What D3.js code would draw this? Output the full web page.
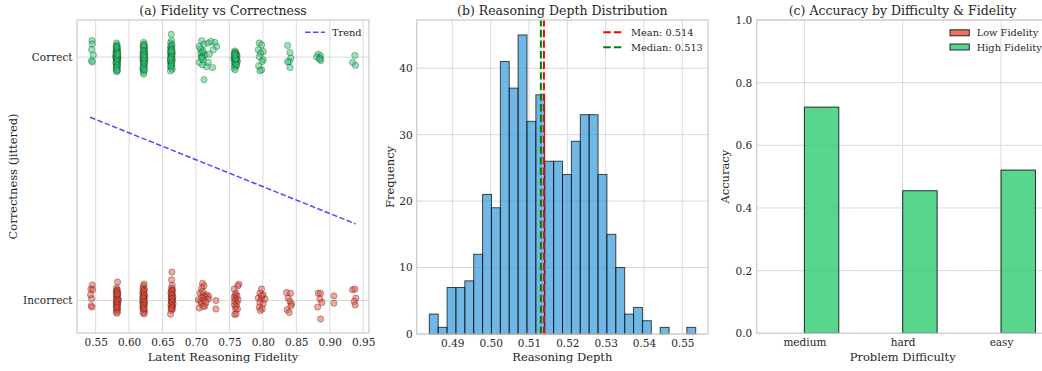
<!DOCTYPE html>
<html><head><meta charset="utf-8">
<script src="https://cdn.jsdelivr.net/npm/d3@7"></script>
<style>
body{margin:0;background:#fff}
svg{display:block}
text{font-family:"DejaVu Serif",serif;fill:#262626}
</style>
</head><body>
<svg id="chart" width="1042" height="371"></svg>
<script>
// ---------- DATA ----------
// (a) scatter: [fidelity, jittered correctness]
const correctPoints = [
 [0.5445,1.068],[0.5448,1.054],[0.5440,1.030],[0.5465,1.008],[0.5437,0.985],[0.5450,0.980],
 [0.5813,1.058],[0.5820,1.050],[0.5806,1.045],[0.5828,1.040],[0.5810,1.036],[0.5823,1.031],[0.5816,1.027],[0.5803,1.022],[0.5831,1.019],[0.5818,1.015],
 [0.5808,1.012],[0.5826,1.008],[0.5814,1.005],[0.5821,1.002],[0.5805,0.999],[0.5833,0.997],[0.5817,0.994],[0.5809,0.991],[0.5824,0.988],[0.5812,0.985],
 [0.5828,0.982],[0.5806,0.979],[0.5819,0.976],[0.5815,0.972],[0.5825,0.968],[0.5810,0.964],[0.5822,0.960],[0.5817,0.955],[0.5807,0.950],[0.5826,0.945],
 [0.5814,0.940],[0.5798,1.003],[0.5820,0.998],[0.5812,1.025],[0.5827,0.990],
 [0.5816,1.033],[0.5822,1.020],[0.5809,1.010],[0.5826,1.001],[0.5813,0.993],[0.5820,0.983],[0.5807,0.975],[0.5824,0.966],[0.5815,1.042],[0.5829,1.012],
 [0.5811,0.958],[0.5819,0.947],
 [0.6218,1.060],[0.6225,1.052],[0.6208,1.046],[0.6233,1.040],[0.6213,1.034],[0.6229,1.028],[0.6221,1.022],[0.6205,1.018],[0.6237,1.013],[0.6217,1.009],
 [0.6224,1.004],[0.6211,1.000],[0.6231,0.996],[0.6219,0.992],[0.6207,0.988],[0.6227,0.984],[0.6215,0.980],[0.6233,0.976],[0.6222,0.971],[0.6210,0.966],
 [0.6228,0.961],[0.6218,0.955],[0.6205,0.950],[0.6223,0.944],[0.6213,0.938],[0.6219,0.930],[0.6228,1.018],[0.6212,0.997],[0.6238,0.990],
 [0.6220,1.042],[0.6214,1.026],[0.6226,1.012],[0.6209,1.006],[0.6230,0.999],[0.6217,0.986],[0.6224,0.974],[0.6212,0.958],[0.6229,0.948],[0.6221,1.050],
 [0.6630,1.094],[0.6635,1.068],[0.6620,1.058],[0.6642,1.050],[0.6630,1.043],[0.6615,1.037],[0.6638,1.031],[0.6625,1.025],[0.6645,1.019],[0.6618,1.013],
 [0.6633,1.008],[0.6640,1.003],[0.6622,0.998],[0.6630,0.993],[0.6648,0.989],[0.6615,0.984],[0.6635,0.979],[0.6625,0.973],[0.6640,0.967],[0.6620,0.961],
 [0.6632,0.955],[0.6645,0.950],[0.6618,0.944],[0.6628,0.985],[0.6638,1.010],
 [0.6628,1.046],[0.6636,1.034],[0.6622,1.021],[0.6641,1.015],[0.6630,1.000],[0.6619,0.992],[0.6637,0.976],[0.6627,0.964],[0.6633,1.027],
 [0.7085,1.067],[0.7119,1.053],[0.7049,1.044],[0.7183,1.058],[0.7223,1.064],[0.7283,1.060],[0.7309,1.044],[0.7258,1.030],[0.7069,1.033],[0.7099,1.019],
 [0.7134,1.009],[0.7198,1.012],[0.7049,0.978],[0.7099,0.968],[0.7159,0.961],[0.7249,0.957],[0.7183,0.979],[0.7119,0.907],[0.7079,1.002],[0.7109,0.989],
 [0.7074,1.016],[0.7095,1.000],[0.7105,1.025],[0.7085,0.995],
 [0.7580,1.025],[0.7595,1.020],[0.7570,1.015],[0.7605,1.012],[0.7585,1.008],[0.7615,1.005],[0.7575,1.002],[0.7590,0.999],[0.7600,0.996],[0.7565,0.993],
 [0.7610,0.990],[0.7582,0.987],[0.7595,0.984],[0.7572,0.980],[0.7605,0.976],[0.7588,0.972],[0.7578,0.967],[0.7598,0.962],[0.7570,0.955],[0.7585,0.948],
 [0.7620,0.983],[0.7592,1.003],
 [0.7583,1.017],[0.7598,1.006],[0.7576,0.997],[0.7602,0.989],[0.7588,0.978],[0.7593,0.993],[0.7580,1.010],[0.7607,0.968],
 [0.7946,1.058],[0.7981,1.050],[0.7931,1.030],[0.8006,1.023],[0.7967,1.016],[0.7946,1.002],[0.8006,0.989],[0.7986,0.982],[0.7937,0.964],[0.7981,0.948],[0.7956,0.944],
 [0.8370,1.048],[0.8405,1.019],[0.8419,0.996],[0.8394,0.981],[0.8370,0.981],[0.8405,0.957],
 [0.8828,1.012],[0.8863,1.005],[0.8843,0.996],[0.8868,0.986],[0.8804,1.000],[0.8853,0.992],
 [0.9376,1.007],[0.9342,0.978],[0.9387,0.966]
];
const incorrectPoints = [
 [0.5449,0.064],[0.5430,0.047],[0.5455,0.044],[0.5425,0.023],[0.5440,0.007],[0.5434,-0.022],[0.5445,-0.027],
 [0.5828,0.076],[0.5813,0.052],[0.5823,0.044],[0.5806,0.035],[0.5833,0.030],[0.5818,0.024],[0.5810,0.018],[0.5828,0.013],[0.5816,0.008],[0.5836,0.003],
 [0.5808,-0.002],[0.5824,-0.006],[0.5813,-0.011],[0.5831,-0.015],[0.5818,-0.020],[0.5806,-0.025],[0.5826,-0.030],[0.5813,-0.036],[0.5833,-0.041],[0.5808,-0.048],
 [0.5820,-0.052],[0.5838,0.000],[0.5816,0.040],
 [0.5820,0.035],[0.5814,0.020],[0.5826,0.004],[0.5810,-0.008],[0.5822,-0.017],[0.5816,-0.028],[0.5829,0.026],
 [0.6225,0.068],[0.6215,0.060],[0.6208,0.050],[0.6230,0.045],[0.6218,0.038],[0.6202,0.033],[0.6225,0.027],[0.6212,0.022],[0.6235,0.017],[0.6205,0.012],
 [0.6220,0.007],[0.6210,0.003],[0.6228,-0.002],[0.6200,-0.007],[0.6216,-0.011],[0.6232,-0.016],[0.6208,-0.021],[0.6222,-0.026],[0.6204,-0.031],[0.6218,-0.037],
 [0.6230,-0.043],[0.6210,-0.050],[0.6225,-0.055],[0.6214,0.015],
 [0.6218,0.041],[0.6224,0.024],[0.6212,0.009],[0.6227,-0.005],[0.6215,-0.019],[0.6221,-0.033],
 [0.6640,0.117],[0.6635,0.085],[0.6645,0.062],[0.6630,0.050],[0.6652,0.044],[0.6638,0.038],[0.6625,0.032],[0.6648,0.027],[0.6635,0.021],[0.6655,0.016],
 [0.6628,0.011],[0.6642,0.006],[0.6650,0.001],[0.6632,-0.004],[0.6640,-0.009],[0.6658,-0.013],[0.6625,-0.018],[0.6645,-0.023],[0.6635,-0.029],[0.6650,-0.035],
 [0.6630,-0.040],[0.6620,-0.056],[0.6642,0.010],
 [0.6640,0.040],[0.6633,0.024],[0.6646,0.008],[0.6636,-0.007],[0.6643,-0.020],[0.6630,-0.031],
 [0.7099,0.071],[0.7119,0.060],[0.7084,0.051],[0.7059,0.030],[0.7109,0.023],[0.7159,0.023],[0.7190,0.018],[0.7134,0.014],[0.7084,0.010],[0.7034,0.003],
 [0.7069,-0.004],[0.7119,0.000],[0.7183,0.006],[0.7084,-0.014],[0.7134,-0.022],[0.7049,-0.031],[0.7109,-0.025],[0.7298,0.000],[0.7298,-0.035],[0.7099,0.037],
 [0.7149,-0.008],
 [0.7642,0.067],[0.7625,0.060],[0.7572,0.047],[0.7600,0.030],[0.7585,0.022],[0.7615,0.018],[0.7570,0.012],[0.7595,0.006],[0.7630,0.002],[0.7580,-0.004],
 [0.7610,-0.010],[0.7575,-0.017],[0.7600,-0.024],[0.7590,-0.035],[0.7620,-0.035],[0.7580,-0.057],[0.7600,-0.055],
 [0.7981,0.047],[0.7956,0.030],[0.8006,0.023],[0.7931,0.010],[0.7981,0.006],[0.8031,0.006],[0.7956,-0.008],[0.8006,-0.014],[0.7946,-0.027],[0.7991,-0.035],
 [0.7961,-0.041],[0.7981,0.020],
 [0.8355,0.033],[0.8415,0.030],[0.8379,0.010],[0.8404,-0.004],[0.8430,-0.014],[0.8364,-0.038],[0.8394,-0.049],[0.8420,-0.022],
 [0.8828,0.030],[0.8863,0.030],[0.8853,0.006],[0.8883,-0.008],[0.8818,-0.027],[0.8863,-0.076],
 [0.9062,0.019],[0.9062,-0.011],
 [0.9342,0.044],[0.9376,0.047],[0.9391,0.010],[0.9366,-0.004],[0.9381,-0.018]
];
const trendX = [0.5417, 0.9386];
const trendY = [0.753, 0.315];
const xTicksA = [0.55,0.60,0.65,0.70,0.75,0.80,0.85,0.90,0.95];
const yTicksA = [0, 1];
const yTickLabelsA = ["Incorrect", "Correct"];

// (b) histogram
const depthRange = [0.4840, 0.5535];
const depthCounts = [3,1,7,7,8,12,21,19,41,37,45,32,36,26,26,24,29,33,33,24,15,10,3,4,2,0,1,0,0,1];
const depthMean = 0.5139;
const depthMedian = 0.5131;
const xTicksB = [0.49,0.50,0.51,0.52,0.53,0.54,0.55];
const yTicksB = [0,10,20,30,40];

// (c) grouped bars
const difficulties = ["medium", "hard", "easy"];
const lowFidelityAcc = [0, 0, 0];
const highFidelityAcc = [0.722, 0.455, 0.521];
const yTicksC = [0,0.2,0.4,0.6,0.8,1.0];

// ---------- DRAW ----------
const svg = d3.select("#chart");
svg.append("rect").attr("width",1042).attr("height",371).attr("fill","#fff");
const GRID = "#d9d9d9", SPINE = "#cccccc";

function frame(g, x0, x1, y0, y1){
  g.append("rect").attr("x",x0).attr("y",y0).attr("width",x1-x0).attr("height",y1-y0)
   .attr("fill","none").attr("stroke",SPINE).attr("stroke-width",1.25);
}
function vgrid(g, xs, y0, y1){
  g.selectAll(null).data(xs).join("line").attr("x1",d=>d).attr("x2",d=>d)
   .attr("y1",y0).attr("y2",y1).attr("stroke",GRID).attr("stroke-width",1);
}
function hgrid(g, ys, x0, x1){
  g.selectAll(null).data(ys).join("line").attr("y1",d=>d).attr("y2",d=>d)
   .attr("x1",x0).attr("x2",x1).attr("stroke",GRID).attr("stroke-width",1);
}
function styleAxis(a){
  a.select(".domain").remove();
  a.selectAll("text").style("font-family","DejaVu Serif").style("font-size","10.5px").attr("fill","#262626");
}
function title(t, cx){
  svg.append("text").attr("x",cx).attr("y",14.5).attr("text-anchor","middle").style("font-size","12.5px").text(t);
}
function xlabel(t, cx){
  svg.append("text").attr("x",cx).attr("y",361).attr("text-anchor","middle").style("font-size","11.5px").text(t);
}
function ylabel(t, cx, cy){
  svg.append("text").attr("transform",`translate(${cx},${cy}) rotate(-90)`).attr("text-anchor","middle")
   .attr("dominant-baseline","central").style("font-size","11.5px").text(t);
}

// ---- Panel A ----
{
  const L=77,R=369,T=20,B=333;
  const x = d3.scaleLinear().domain([0.5221,0.9587]).range([L,R]);
  const y = d3.scaleLinear().domain([-0.1335,1.1525]).range([B,T]);
  const g = svg.append("g");
  vgrid(g, xTicksA.map(x), T, B);
  hgrid(g, yTicksA.map(y), L, R);
  g.selectAll(null).data(correctPoints).join("circle")
   .attr("cx",d=>x(d[0])).attr("cy",d=>y(d[1])).attr("r",3.2)
   .attr("fill","#2ecc71").attr("fill-opacity",0.5).attr("stroke","#000").attr("stroke-opacity",0.5).attr("stroke-width",0.5);
  g.selectAll(null).data(incorrectPoints).join("circle")
   .attr("cx",d=>x(d[0])).attr("cy",d=>y(d[1])).attr("r",3.2)
   .attr("fill","#e74c3c").attr("fill-opacity",0.5).attr("stroke","#000").attr("stroke-opacity",0.5).attr("stroke-width",0.5);
  g.append("line").attr("x1",x(trendX[0])).attr("y1",y(trendY[0])).attr("x2",x(trendX[1])).attr("y2",y(trendY[1]))
   .attr("stroke","#0000ff").attr("stroke-opacity",0.7).attr("stroke-width",1.5).attr("stroke-dasharray","5.5,2.4");
  const ax = g.append("g").attr("transform",`translate(0,${B})`)
   .call(d3.axisBottom(x).tickValues(xTicksA).tickFormat(d3.format(".2f")).tickSize(0).tickPadding(5.5));
  styleAxis(ax);
  const ay = g.append("g").attr("transform",`translate(${L},0)`)
   .call(d3.axisLeft(y).tickValues(yTicksA).tickFormat((d,i)=>yTickLabelsA[i]).tickSize(0).tickPadding(4.5));
  styleAxis(ay);
  frame(g,L,R,T,B);
  g.append("line").attr("x1",305).attr("x2",325).attr("y1",32.3).attr("y2",32.3)
   .attr("stroke","#0000ff").attr("stroke-opacity",0.7).attr("stroke-width",1.5).attr("stroke-dasharray","5.5,2.4");
  g.append("text").attr("x",332).attr("y",35.8).style("font-size","9.8px").text("Trend");
  title("(a) Fidelity vs Correctness",(L+R)/2);
  xlabel("Latent Reasoning Fidelity",(L+R)/2);
  ylabel("Correctness (jittered)",12.5,(T+B)/2);
}

// ---- Panel B ----
{
  const L=416.7,R=708,T=20,B=334;
  const x = d3.scaleLinear().domain([0.48071,0.55670]).range([L,R]);
  const y = d3.scaleLinear().domain([0,47.25]).range([B,T]);
  const g = svg.append("g");
  vgrid(g, xTicksB.map(x), T, B);
  hgrid(g, yTicksB.map(y), L, R);
  const n = depthCounts.length, w = (depthRange[1]-depthRange[0])/n;
  const bins = depthCounts.map((c,i)=>({x0:depthRange[0]+i*w, x1:depthRange[0]+(i+1)*w, c}));
  g.selectAll(null).data(bins.filter(b=>b.c>0)).join("rect")
   .attr("x",d=>x(d.x0)).attr("width",d=>x(d.x1)-x(d.x0))
   .attr("y",d=>y(d.c)).attr("height",d=>y(0)-y(d.c))
   .attr("fill","#3498db").attr("fill-opacity",0.7).attr("stroke","#000").attr("stroke-opacity",0.7).attr("stroke-width",1);
  g.append("line").attr("x1",x(depthMean)).attr("x2",x(depthMean)).attr("y1",B).attr("y2",T)
   .attr("stroke","#ff0000").attr("stroke-width",2).attr("stroke-dasharray","7.4,3.2");
  g.append("line").attr("x1",x(depthMedian)).attr("x2",x(depthMedian)).attr("y1",B).attr("y2",T)
   .attr("stroke","#008000").attr("stroke-width",2).attr("stroke-dasharray","7.4,3.2");
  const ax = g.append("g").attr("transform",`translate(0,${B})`)
   .call(d3.axisBottom(x).tickValues(xTicksB).tickFormat(d3.format(".2f")).tickSize(0).tickPadding(5.5));
  styleAxis(ax);
  const ay = g.append("g").attr("transform",`translate(${L},0)`)
   .call(d3.axisLeft(y).tickValues(yTicksB).tickFormat(d3.format("d")).tickSize(0).tickPadding(4));
  styleAxis(ay);
  frame(g,L,R,T,B);
  const leg = [[ "#ff0000", "Mean: "+depthMean.toFixed(3), 32.3],["#008000","Median: "+depthMedian.toFixed(3), 47.3]];
  leg.forEach(([c,t,yy])=>{
    g.append("line").attr("x1",603.3).attr("x2",623.3).attr("y1",yy).attr("y2",yy)
     .attr("stroke",c).attr("stroke-width",2).attr("stroke-dasharray","7.4,3.2");
    g.append("text").attr("x",631).attr("y",yy+3.5).style("font-size","9.8px").text(t);
  });
  title("(b) Reasoning Depth Distribution",(L+R)/2);
  xlabel("Reasoning Depth",(L+R)/2);
  ylabel("Frequency",390,(T+B)/2);
}

// ---- Panel C ----
{
  const L=756.7,R=1048.7,T=20,B=333.3;
  const x = d3.scaleLinear().domain([-0.485,2.485]).range([L,R]);
  const y = d3.scaleLinear().domain([0,1]).range([B,T]);
  const g = svg.append("g");
  const idx = difficulties.map((d,i)=>i);
  vgrid(g, idx.map(x), T, B);
  hgrid(g, yTicksC.map(y), L, R);
  const bw = 0.35;
  const bars = [];
  difficulties.forEach((d,i)=>{
    bars.push({x0:i-bw, v:lowFidelityAcc[i], c:"#e74c3c"});
    bars.push({x0:i, v:highFidelityAcc[i], c:"#2ecc71"});
  });
  g.selectAll(null).data(bars.filter(b=>b.v>0)).join("rect")
   .attr("x",d=>x(d.x0)).attr("width",d=>x(d.x0+bw)-x(d.x0))
   .attr("y",d=>y(d.v)).attr("height",d=>y(0)-y(d.v))
   .attr("fill",d=>d.c).attr("fill-opacity",0.8).attr("stroke","#000").attr("stroke-opacity",0.8).attr("stroke-width",1);
  const ax = g.append("g").attr("transform",`translate(0,${B})`)
   .call(d3.axisBottom(x).tickValues(idx).tickFormat(i=>difficulties[i]).tickSize(0).tickPadding(5.5));
  styleAxis(ax);
  const ay = g.append("g").attr("transform",`translate(${L},0)`)
   .call(d3.axisLeft(y).tickValues(yTicksC).tickFormat(d3.format(".1f")).tickSize(0).tickPadding(4.5));
  styleAxis(ay);
  frame(g,L,R,T,B);
  const leg = [["#e74c3c","Low Fidelity",32.8],["#2ecc71","High Fidelity",47]];
  leg.forEach(([c,t,yy])=>{
    g.append("rect").attr("x",950).attr("y",yy-3).attr("width",19.3).attr("height",6)
     .attr("fill",c).attr("fill-opacity",0.8).attr("stroke","#000").attr("stroke-opacity",0.8).attr("stroke-width",1);
    g.append("text").attr("x",976.7).attr("y",yy+3.5).style("font-size","9.8px").text(t);
  });
  title("(c) Accuracy by Difficulty & Fidelity",(L+R)/2 - 0.2);
  xlabel("Problem Difficulty",(L+R)/2);
  ylabel("Accuracy",725,(T+B)/2);
}
</script>
</body></html>
